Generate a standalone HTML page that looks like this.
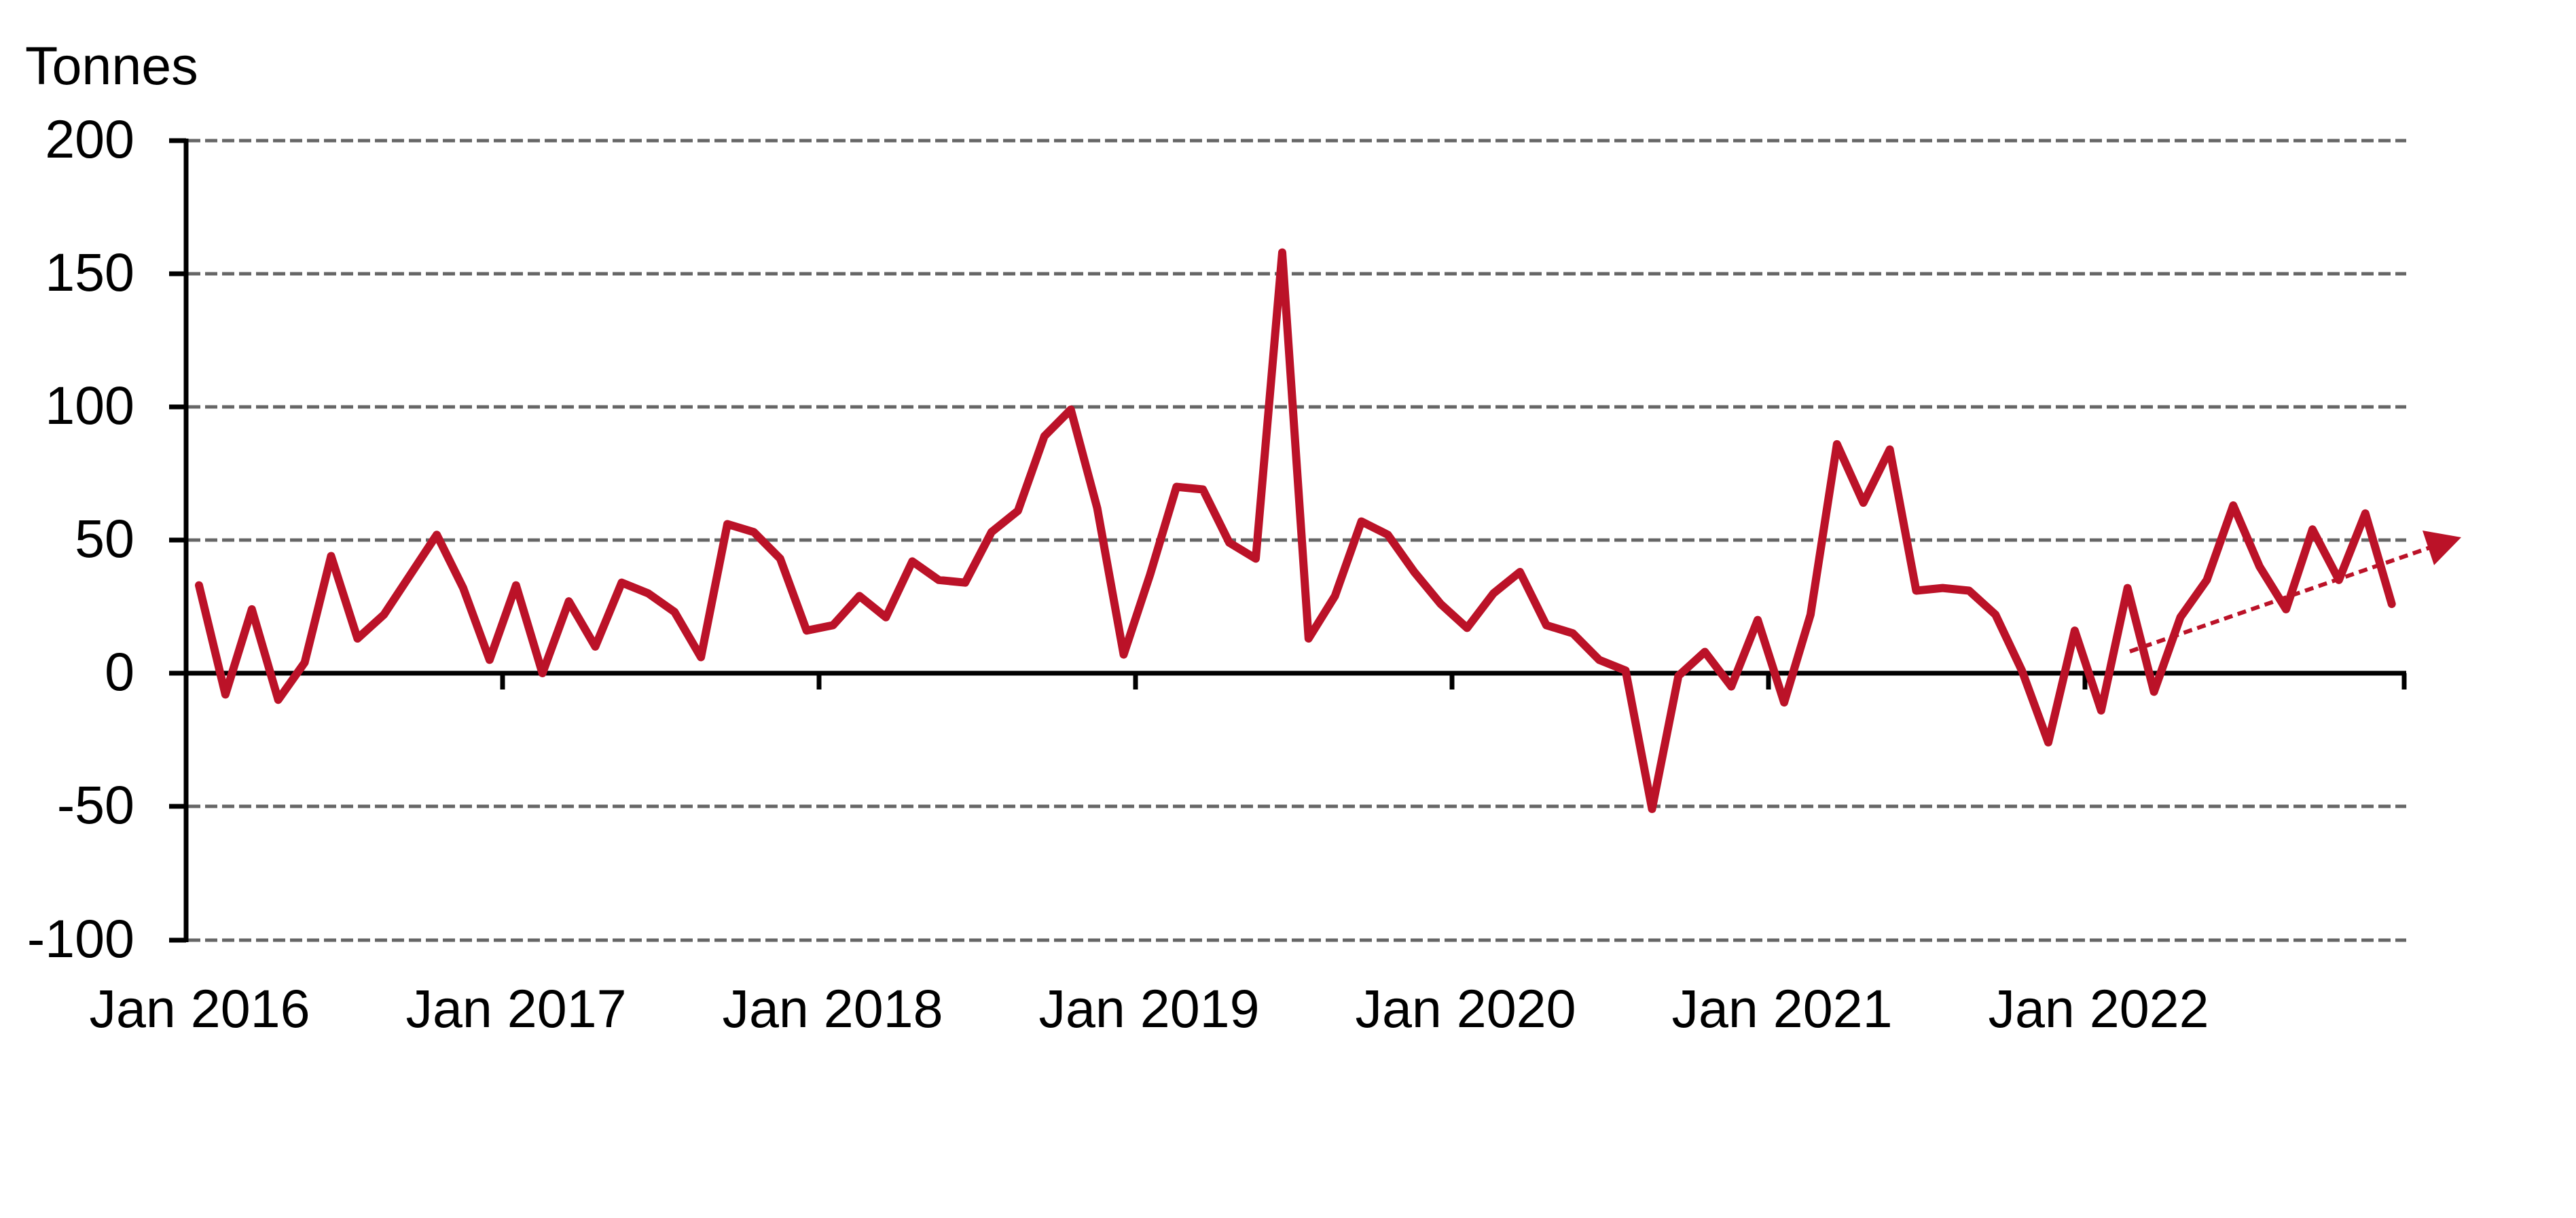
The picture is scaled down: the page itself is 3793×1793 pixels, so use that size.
<!DOCTYPE html>
<html><head><meta charset="utf-8"><style>
html,body{margin:0;padding:0;background:#fff;}
svg{display:block;}
text{font-family:"Liberation Sans",Arial,sans-serif;font-size:79px;fill:#000;}
</style></head><body>
<svg width="3793" height="1793" viewBox="0 0 3793 1793" xmlns="http://www.w3.org/2000/svg">
<g stroke="#666" stroke-width="5" stroke-dasharray="18 7">
<line x1="277" y1="207" x2="3543" y2="207"/>
<line x1="277" y1="403" x2="3543" y2="403"/>
<line x1="277" y1="599" x2="3543" y2="599"/>
<line x1="277" y1="795" x2="3543" y2="795"/>
<line x1="277" y1="1187" x2="3543" y2="1187"/>
<line x1="277" y1="1384" x2="3543" y2="1384"/>
</g>
<g stroke="#000" stroke-width="7">
<line x1="274" y1="204" x2="274" y2="1387"/>
<line x1="249" y1="207" x2="274" y2="207"/>
<line x1="249" y1="403" x2="274" y2="403"/>
<line x1="249" y1="599" x2="274" y2="599"/>
<line x1="249" y1="795" x2="274" y2="795"/>
<line x1="249" y1="991" x2="274" y2="991"/>
<line x1="249" y1="1187" x2="274" y2="1187"/>
<line x1="249" y1="1384" x2="274" y2="1384"/>
<line x1="274" y1="991" x2="3543" y2="991"/>
<line x1="740" y1="991" x2="740" y2="1015"/>
<line x1="1206" y1="991" x2="1206" y2="1015"/>
<line x1="1672" y1="991" x2="1672" y2="1015"/>
<line x1="2138" y1="991" x2="2138" y2="1015"/>
<line x1="2604" y1="991" x2="2604" y2="1015"/>
<line x1="3070" y1="991" x2="3070" y2="1015"/>
<line x1="3540" y1="991" x2="3540" y2="1015"/>
</g>
<g text-anchor="end">
<text x="198" y="232">200</text>
<text x="198" y="428">150</text>
<text x="198" y="624">100</text>
<text x="198" y="820">50</text>
<text x="198" y="1016">0</text>
<text x="198" y="1212">-50</text>
<text x="198" y="1409">-100</text>
</g>
<text x="37" y="124">Tonnes</text>
<g text-anchor="middle">
<text x="294" y="1512">Jan 2016</text>
<text x="760" y="1512">Jan 2017</text>
<text x="1226" y="1512">Jan 2018</text>
<text x="1692" y="1512">Jan 2019</text>
<text x="2158" y="1512">Jan 2020</text>
<text x="2624" y="1512">Jan 2021</text>
<text x="3090" y="1512">Jan 2022</text>
</g>
<polyline fill="none" stroke="#BB1228" stroke-width="12" stroke-linejoin="round" stroke-linecap="round" points="293,861.6 331.9,1022.4 370.8,896.9 409.7,1030.2 448.6,975.3 487.5,818.5 526.4,940 565.3,904.8 604.2,846 643.1,787.2 682,865.6 720.9,971.4 759.8,861.6 798.7,991 837.6,885.2 876.5,951.8 915.4,857.7 954.3,873.4 993.2,900.8 1032.1,967.5 1071,771.5 1109.9,783.2 1148.8,822.4 1187.7,928.3 1226.6,920.4 1265.5,877.3 1304.4,908.7 1343.3,826.4 1382.2,853.8 1421.1,857.7 1460,783.2 1498.9,751.9 1537.8,642.1 1576.7,602.9 1615.6,748 1654.5,963.6 1693.4,846 1732.3,716.6 1771.2,720.5 1810.1,798.9 1849,822.4 1888,371.6 1926.8,940 1965.7,877.3 2004.6,767.6 2043.5,787.2 2082.4,842 2121.3,889.1 2160.2,924.4 2199.1,873.4 2238,842 2276.9,920.4 2315.8,932.2 2354.7,971.4 2393.6,987.1 2432.5,1190.9 2471.4,994.9 2510.3,959.6 2549.2,1010.6 2588.1,912.6 2627,1034.1 2665.9,904.8 2704.8,653.9 2743.7,740.1 2782.6,661.7 2821.5,869.5 2860.4,865.6 2899.3,869.5 2938.2,904.8 2977.1,987.1 3016,1092.9 3054.9,928.3 3093.8,1045.9 3132.7,865.6 3171.6,1018.4 3210.5,908.7 3249.4,853.8 3288.3,744 3327.2,834.2 3366.1,896.9 3405,779.3 3443.9,853.8 3482.8,755.8 3521.7,889.1"/>
<line x1="3136" y1="959" x2="3578" y2="806" stroke="#BB1228" stroke-width="6" stroke-dasharray="13 8"/>
<polygon points="3567,781 3624,791 3584,832" fill="#BB1228"/>
</svg>
</body></html>
